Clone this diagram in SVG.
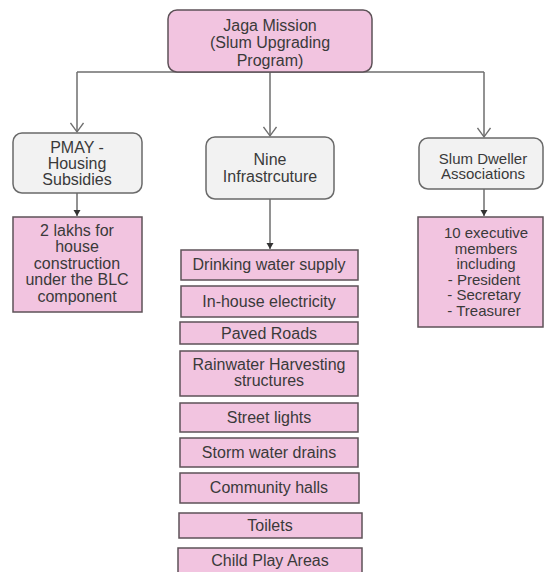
<svg xmlns="http://www.w3.org/2000/svg" width="544" height="572" viewBox="0 0 544 572">
<style>
text{font-family:"Liberation Sans",Arial,sans-serif;font-size:16px;fill:#3a3a3a;text-anchor:middle}
.s15{font-size:15px}
.pink{fill:#f2c4e0;stroke:#5e5258;stroke-width:1.5}
.gray{fill:#f2f2f2;stroke:#6a6a6a;stroke-width:1.5}
.con{stroke:#6e6e6e;stroke-width:1.5;fill:none}
</style>
<defs>
<marker id="open" markerWidth="14" markerHeight="14" refX="10" refY="7" orient="auto" markerUnits="userSpaceOnUse">
<path d="M1,0.5 L10,7 L1,13.5" fill="none" stroke="#6e6e6e" stroke-width="1.3"/>
</marker>
<marker id="fill" markerWidth="8" markerHeight="8" refX="6" refY="4" orient="auto" markerUnits="userSpaceOnUse">
<path d="M0,0.5 L6,4 L0,7.5 Z" fill="#333"/>
</marker>
</defs>
<rect width="544" height="572" fill="#ffffff"/>
<g id="connectors">
<path class="con" d="M77,72 H484"/>
<path class="con" d="M77,72 V132" marker-end="url(#open)"/>
<path class="con" d="M270,72 V136" marker-end="url(#open)"/>
<path class="con" d="M484,72 V137" marker-end="url(#open)"/>
<path class="con" d="M77,193 V216" marker-end="url(#fill)"/>
<path class="con" d="M270,199 V249" marker-end="url(#fill)"/>
<path class="con" d="M484,189 V216" marker-end="url(#fill)"/>
</g>
<g id="root">
<rect class="pink" x="168" y="10" width="204" height="62" rx="9"/>
<text x="270" y="30.5">Jaga Mission</text>
<text x="270" y="48">(Slum Upgrading</text>
<text x="270" y="65.5">Program)</text>
</g>
<g id="pmay">
<rect class="gray" x="13" y="133" width="129" height="60" rx="9"/>
<text x="77" y="153">PMAY -</text>
<text x="77" y="169">Housing</text>
<text x="77" y="185">Subsidies</text>
</g>
<g id="pmay-detail">
<rect class="pink" x="13" y="217" width="129" height="95"/>
<text x="77" y="235.5">2 lakhs for</text>
<text x="77" y="252">house</text>
<text x="77" y="268.5">construction</text>
<text x="77" y="285">under the BLC</text>
<text x="77" y="301.5">component</text>
</g>
<g id="nine">
<rect class="gray" x="206" y="137" width="128" height="62" rx="9"/>
<text x="270" y="165">Nine</text>
<text x="270" y="182">Infrastrcuture</text>
</g>
<g id="slum">
<rect class="gray" x="419" y="138" width="124" height="51" rx="9"/>
<text class="s15" x="483" y="163.5">Slum Dweller</text>
<text class="s15" x="483" y="179">Associations</text>
</g>
<g id="slum-detail">
<rect class="pink" x="418" y="217" width="125" height="110"/>
<text class="s15" x="486" y="238">10 executive</text>
<text class="s15" x="486" y="253.5">members</text>
<text class="s15" x="486" y="269">including</text>
<text class="s15" x="484" y="284.5">- President</text>
<text class="s15" x="484" y="300">- Secretary</text>
<text class="s15" x="484" y="315.5">- Treasurer</text>
</g>
<g id="drinking">
<rect class="pink" x="181" y="250" width="177" height="30"/>
<text x="269" y="270">Drinking water supply</text>
</g>
<g id="electricity">
<rect class="pink" x="181" y="286" width="177" height="31"/>
<text x="269" y="306.5">In-house electricity</text>
</g>
<g id="roads">
<rect class="pink" x="180" y="322" width="178" height="22"/>
<text x="269" y="338.5">Paved Roads</text>
</g>
<g id="rainwater">
<rect class="pink" x="180" y="351" width="178" height="45"/>
<text x="269" y="370">Rainwater Harvesting</text>
<text x="269" y="386">structures</text>
</g>
<g id="streetlights">
<rect class="pink" x="180" y="403" width="178" height="29"/>
<text x="269" y="422.5">Street lights</text>
</g>
<g id="storm">
<rect class="pink" x="180" y="438" width="178" height="29"/>
<text x="269" y="457.5">Storm water drains</text>
</g>
<g id="community">
<rect class="pink" x="180" y="473" width="179" height="30"/>
<text x="269" y="493">Community halls</text>
</g>
<g id="toilets">
<rect class="pink" x="179" y="513" width="183" height="25"/>
<text x="270" y="530.5">Toilets</text>
</g>
<g id="play">
<rect class="pink" x="178" y="548" width="184" height="30"/>
<text x="270" y="565.5">Child Play Areas</text>
</g>
</svg>
